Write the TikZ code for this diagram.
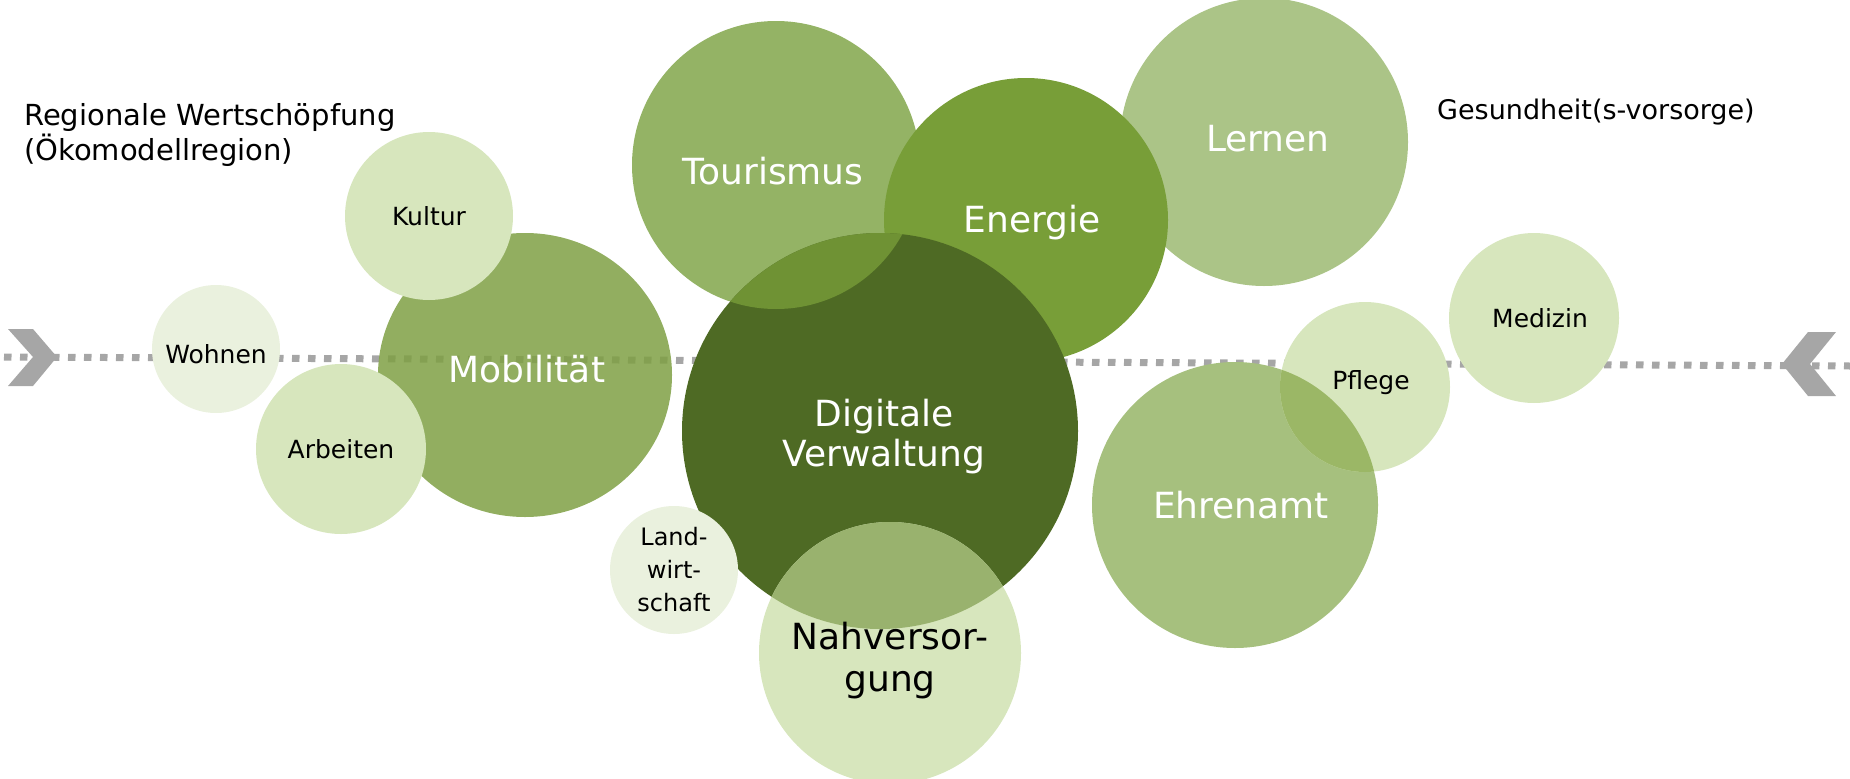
\documentclass[tikz,border=0pt]{standalone}
\usepackage{fontspec}
\setmainfont{DejaVu Sans}

\definecolor{greycol}{HTML}{A6A6A6}
\definecolor{tourcol}{HTML}{94B365}
\definecolor{enercol}{HTML}{789E38}
\definecolor{lerncol}{HTML}{ABC487}
\definecolor{dvcol}{HTML}{4E6A24}
\definecolor{mobcol}{HTML}{7FA044}
\definecolor{ehrcol}{HTML}{A6C07E}
\definecolor{lightcol}{HTML}{D7E6BD}
\definecolor{palecol}{HTML}{EAF1DE}
\definecolor{tourdv}{HTML}{6F9234}
\definecolor{nahdv}{HTML}{99B26E}
\definecolor{ehrpfl}{HTML}{9BB766}

\begin{document}
\begin{tikzpicture}[x=1pt,y=-1pt,
    bigtxt/.style={text=white,font=\fontsize{36}{42}\selectfont,align=center,inner sep=0pt},
    smalltxt/.style={font=\fontsize{25}{32}\selectfont,align=center,inner sep=0pt},
    headtxt/.style={font=\fontsize{27}{35}\selectfont,align=left,inner sep=0pt},
    dotline/.style={greycol,line width=7pt,dash pattern=on 7.5pt off 8.5pt}]
      \useasboundingbox (0,0) rectangle (1850,779);
      \coordinate (lstart) at (4,357);
      \coordinate (rend) at (1850,366);
      \draw[dotline] (lstart) -- (rend);
      \fill[greycol] (8,329) -- (33,329) -- (57,357) -- (33,386) -- (8,386) -- (33,357) -- cycle;
      \fill[greycol] (1808,332) -- (1836,332) -- (1810,364) -- (1836,396) -- (1808,396) -- (1782,364) -- cycle;

      \fill[palecol] (216,349) circle[radius=64pt];
      \fill[mobcol,fill opacity=.85] (525,375) ellipse[x radius=147pt,y radius=142pt];
      \fill[lightcol] (429,216) circle[radius=84pt];
      \fill[lightcol] (341,449) circle[radius=85pt];
      \fill[tourcol] (776,165) circle[radius=144pt];
      \fill[lerncol] (1264,142) circle[radius=144pt];
      \fill[enercol] (1026,220) circle[radius=142pt];
      \fill[dvcol] (880,431) circle[radius=198pt];
      \fill[palecol] (674,570) circle[radius=64pt];
      \begin{scope}
        \clip (880,431) circle[radius=198pt];
        \fill[tourdv] (776,165) circle[radius=144pt];
      \end{scope}
      \fill[lightcol] (890,653) circle[radius=131pt];
      \begin{scope}
        \clip (880,431) circle[radius=198pt];
        \fill[nahdv] (890,653) circle[radius=131pt];
      \end{scope}
      \fill[ehrcol] (1235,505) circle[radius=143pt];
      \fill[lightcol] (1365,387) circle[radius=85pt];
      \begin{scope}
        \clip (1235,505) circle[radius=143pt];
        \fill[ehrpfl] (1365,387) circle[radius=85pt];
      \end{scope}
      \fill[lightcol] (1534,318) circle[radius=85pt];

      \node[bigtxt] (tourL) at (773,171) {Tourismus};
      \node[bigtxt] (enerL) at (1032,223) {Energie};
      \node[bigtxt] (lernL) at (1268,139) {Lernen};
      \node[bigtxt] (mobL) at (527,369) {Mobilität};
      \node[bigtxt,font=\fontsize{36}{40}\selectfont] (dvL) at (884,437) {Digitale\\Verwaltung};
      \node[bigtxt,text=black] (nahL) at (890,661) {Nahversor-\\gung};
      \node[bigtxt] (ehrL) at (1241,505) {Ehrenamt};
      \node[smalltxt] (kulL) at (429,216) {Kultur};
      \node[smalltxt] (wohL) at (216,354) {Wohnen};
      \node[smalltxt] (arbL) at (341,449) {Arbeiten};
      \node[smalltxt,font=\fontsize{24}{33}\selectfont] (landL) at (674,570) {Land-\\wirt-\\schaft};
      \node[smalltxt] (pflL) at (1371,383) {Pflege};
      \node[smalltxt] (medL) at (1540,318) {Medizin};
      \node[headtxt,font=\fontsize{29}{35}\selectfont,anchor=north west] (regL) at (24,103) {Regionale Wertschöpfung\\(Ökomodellregion)};
      \node[headtxt,anchor=west] (gesL) at (1437,112) {Gesundheit(s-vorsorge)};
    \end{tikzpicture}
\end{document}
